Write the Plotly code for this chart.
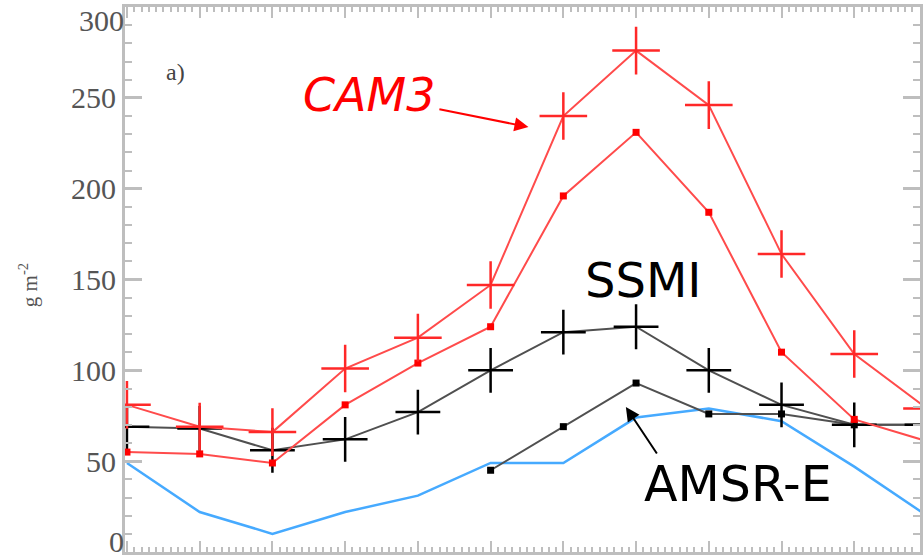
import plotly.graph_objects as go

# x positions (index of month-like steps)
x_idx = list(range(12))

cam3_cross = [81, 69, 66, 101, 118, 147, 240, 276, 246, 164, 109, 79]
cam3_dot = [55, 54, 49, 81, 104, 124, 196, 231, 187, 110, 73, 61]
ssmi = [69, 68, 56, 62, 77, 100, 121, 124, 100, 81, 70, 70]
amsre = [None, None, None, None, None, 45, 69, 93, 76, 76, 70, 70]
blue = [49, 22, 10, 22, 31, 49, 49, 74, 79, 72, 47, 20]

ytick_vals = [50, 100, 150, 200, 250]
ytick_text = ["50", "100", "150", "200", "250"]
# end labels (0 and 300) are drawn slightly inside the axis ends
yedge_vals = [6.0, 292.8]
yedge_text = ["0", "300"]

RED_LINE = "rgb(255,75,75)"
RED = "rgb(255,0,0)"
GRAY_LINE = "rgb(80,80,80)"
BLUE = "rgb(70,170,255)"

fig = go.Figure()

fig.add_trace(go.Scatter(x=x_idx, y=blue, mode="lines",
                         line=dict(color=BLUE, width=2.5), showlegend=False))
fig.add_trace(go.Scatter(x=x_idx, y=amsre, mode="lines+markers",
                         line=dict(color=GRAY_LINE, width=2),
                         marker=dict(symbol="square", size=7, color="black"),
                         showlegend=False))
fig.add_trace(go.Scatter(x=x_idx, y=ssmi, mode="lines+markers",
                         line=dict(color=GRAY_LINE, width=2),
                         marker=dict(symbol="cross-thin", size=32,
                                     line=dict(color="black", width=2.5)),
                         showlegend=False))
fig.add_trace(go.Scatter(x=x_idx, y=cam3_dot, mode="lines+markers",
                         line=dict(color=RED_LINE, width=2),
                         marker=dict(symbol="square", size=7, color=RED),
                         showlegend=False))
fig.add_trace(go.Scatter(x=x_idx, y=cam3_cross, mode="lines+markers",
                         line=dict(color=RED_LINE, width=2),
                         marker=dict(symbol="cross-thin", size=34,
                                     line=dict(color="rgb(255,40,40)", width=2.5)),
                         showlegend=False))
# invisible trace to activate the secondary label axis
fig.add_trace(go.Scatter(x=[None], y=[None], yaxis="y2", showlegend=False,
                         hoverinfo="skip"))

AX = "rgb(190,190,190)"
TICKFONT = dict(family="Liberation Serif", size=30, color="#555")

fig.update_layout(
    width=923, height=558,
    margin=dict(l=125, r=0, t=7, b=6),
    paper_bgcolor="white", plot_bgcolor="white",
    xaxis=dict(range=[-0.027, 10.904], showgrid=False, zeroline=False,
               showline=True, linecolor=AX, linewidth=3, mirror="ticks",
               ticks="inside", ticklen=11, tickwidth=2, tickcolor=AX,
               dtick=1, tick0=0, showticklabels=False,
               minor=dict(ticks="inside", ticklen=5, tickwidth=1.5,
                          tickcolor=AX, dtick=0.1)),
    yaxis=dict(range=[0, 300], showgrid=False, zeroline=False,
               showline=True, linecolor=AX, linewidth=3, mirror="ticks",
               ticks="inside", ticklen=17, tickwidth=2.5, tickcolor=AX,
               tickvals=ytick_vals, ticktext=ytick_text,
               tickfont=TICKFONT,
               minor=dict(ticks="inside", ticklen=7, tickwidth=2,
                          tickcolor=AX, dtick=10)),
    yaxis2=dict(range=[0, 300], overlaying="y", side="left",
                showgrid=False, zeroline=False, showline=False, ticks="",
                tickvals=yedge_vals, ticktext=yedge_text, tickfont=TICKFONT,
                ticklabeloverflow="allow"),
)

ann_font = "DejaVu Sans"
# CAM3 label with arrow pointing at the upper red curve
fig.add_annotation(x=5.52, y=233.9, text="<i>CAM3</i>", showarrow=True,
                   axref="pixel", ayref="pixel", ax=-159, ay=-32,
                   arrowhead=2, arrowsize=1.4, arrowwidth=2, arrowcolor=RED,
                   standoff=0, startstandoff=2,
                   font=dict(family=ann_font, size=46, color=RED))
fig.add_annotation(x=7.10, y=149.7, text="SSMI", showarrow=False,
                   font=dict(family=ann_font, size=48, color="black"))
fig.add_annotation(x=8.40, y=36.9, text="AMSR-E", showarrow=False,
                   font=dict(family=ann_font, size=49, color="black"))
fig.add_annotation(x=6.86, y=79.8, text="", showarrow=True, axref="pixel",
                   ayref="pixel", ax=32, ay=48, arrowhead=2, arrowsize=1.4,
                   arrowwidth=2, arrowcolor="black")
fig.add_annotation(x=0.67, y=264.2, text="a)", showarrow=False,
                   font=dict(family="Liberation Serif", size=24, color="#444"))
fig.add_annotation(xref="paper", yref="paper", x=-0.14, y=0.49,
                   text="g m<sup>-2</sup>", textangle=-90, showarrow=False,
                   font=dict(family="Liberation Serif", size=21, color="#555"))

fig.write_html("out.html")
